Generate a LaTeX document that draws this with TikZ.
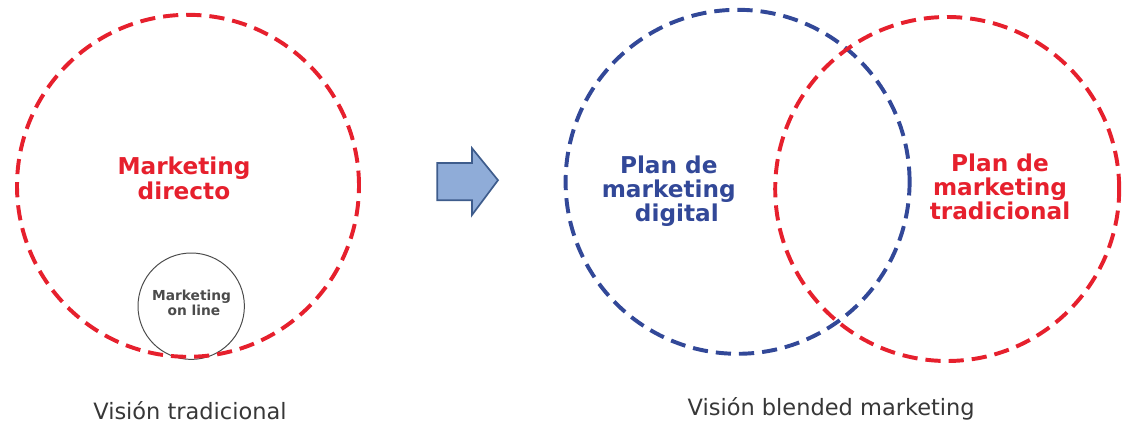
\documentclass[tikz,border=0pt]{standalone}
\usepackage{fontspec}
\setmainfont{DejaVu Sans}
\definecolor{vred}{RGB}{230,32,45}
\definecolor{vblue}{RGB}{50,72,152}
\definecolor{ink}{RGB}{55,55,55}
\definecolor{arrowfill}{RGB}{143,172,216}
\definecolor{arrowline}{RGB}{62,92,140}

\begin{document}
\begin{tikzpicture}[
  x=1cm,y=1cm,
  ring/.style={circle, line width=2.8pt, dash pattern=on 0.38cm off 0.2cm,
               inner sep=0pt},
  title/.style={font=\fontsize{16.5}{17}\selectfont\bfseries, align=center},
  caption/.style={font=\fontsize{16}{19}\selectfont, text=ink}
]
\useasboundingbox (0,0) rectangle (28.1,10.675);

% Traditional view: online marketing inside direct marketing.
\node[circle, draw=ink!90, line width=0.7pt, minimum size=2.66cm, inner sep=0pt]
  (online) at (4.78,3.02) {};
\node[ring, draw=vred, minimum size=8.55cm] (directo) at (4.70,6.03) {};
\node[title, text=vred, font=\fontsize{16.5}{18}\selectfont\bfseries]
  (directoT) at (4.6,6.22) {Marketing\\directo};
\node[font=\fontsize{9.8}{10.5}\selectfont\bfseries, text=ink!90, align=center]
  (onlineT) at (4.79,3.1) {Marketing\\\ on line};

% Transition arrow.
\draw[arrowline, fill=arrowfill, line width=1.2pt, line join=miter]
  (10.93,6.6) -- (11.8,6.6) -- (11.8,6.97) -- (12.45,6.17)
  -- (11.8,5.3) -- (11.8,5.67) -- (10.93,5.67) -- cycle;

% Blended view: two overlapping plans.
\node[ring, draw=vblue, minimum size=8.6cm] (digital) at (18.44,6.13) {};
\node[ring, draw=vred, minimum size=8.6cm] (tradicional) at (23.68,5.95) {};
\node[title, text=vblue] (digitalT) at (16.72,5.9) {Plan de\\marketing\\\ \ digital};
\node[title, text=vred] (tradicionalT) at (25.0,6.0) {Plan de\\marketing\\tradicional};

% Captions.
\node[caption] (capL) at (4.75,0.4) {Visión tradicional};
\node[caption] (capR) at (20.78,0.45) {Visión blended marketing};

\end{tikzpicture}
\end{document}
